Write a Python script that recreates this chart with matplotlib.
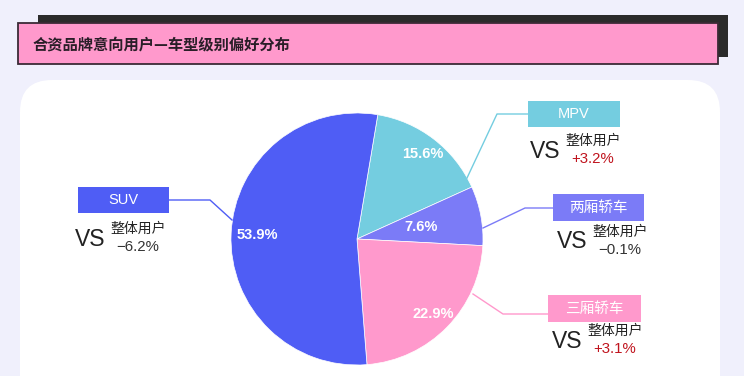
"""
合资品牌意向用户 — 车型级别偏好分布（饼图 + 引线标注）
输出: out.png (744x376)
"""

import numpy as np
import matplotlib
matplotlib.use("Agg")
import matplotlib.pyplot as plt
from matplotlib.patches import FancyBboxPatch, Rectangle

plt.rcParams["font.family"] = ["Liberation Sans", "Noto Sans CJK SC", "DejaVu Sans"]

# ---- 数据 ------------------------------------------------------------------
TITULO = "合资品牌意向用户—车型级别偏好分布"
categorias = ["MPV", "两厢轿车", "三厢轿车", "SUV"]
participacao = [15.6, 7.6, 22.9, 53.9]          # %
vs_total = [3.2, -0.1, 3.1, -6.2]               # 与整体用户相比 (pp)
cores = ["#74CDE0", "#7B7BF7", "#FF99CC", "#4F5DF5"]

# ---- layout (px, origem no topo esquerdo) ---------------------------------
W, H = 744, 376
CENTRO = (357, 239)
RAIO = 126
r_pct = [0.85, 0.52, 0.85, 0.79]               # distância do rótulo de %
# caixa (x, y, w, h), cotovelo, ponto na borda, posição do "VS"
caixas = [(528, 101, 92, 26), (553, 194, 91, 27), (548, 295, 93, 27), (78, 187, 91, 26)]
cotovelos = [(497, 114), (525, 208), (503, 314), (210, 200)]
ancoras = [(467, 178), (483, 228), (473, 294), (232, 220)]
x_vs = [530, 557, 552, 75]
y_vs = [151, 242, 341, 239]

COR_FUNDO = "#F0F0FC"
COR_TEXTO = "#333333"
COR_POS = "#C0141E"


def Y(y):
    return H - y


fig = plt.figure(figsize=(W / 100, H / 100), dpi=100)
fig.patch.set_facecolor(COR_FUNDO)
ax = fig.add_axes([0, 0, 1, 1])
ax.set_facecolor(COR_FUNDO)

# cartão branco arredondado
ax.add_patch(FancyBboxPatch((20, Y(420)), 700, 340, boxstyle="round,pad=0,rounding_size=32",
                            fc="white", ec="none", zorder=0))

# faixa do título: sombra escura + faixa rosa
ax.add_patch(Rectangle((38, Y(57)), 690, 42, fc="#2B2B2B", ec="none", zorder=1))
ax.add_patch(Rectangle((18, Y(64)), 700, 41, fc="#FF99CC", ec="#3B2A36", lw=1.3, zorder=2))
ax.text(33, Y(44), TITULO, fontsize=11, fontweight="heavy", color="#2A1E28",
        family=["Noto Sans CJK SC", "DejaVu Sans"], va="center", ha="left", zorder=3)

# ---- pizza -----------------------------------------------------------------
cx, cy = CENTRO[0], Y(CENTRO[1])
fatias, _ = ax.pie(participacao, colors=cores, startangle=80.5, counterclock=False,
                   center=(cx, cy), radius=RAIO,
                   wedgeprops=dict(edgecolor="white", linewidth=0.5))

for f, v, r in zip(fatias, participacao, r_pct):
    meio = np.deg2rad((f.theta1 + f.theta2) / 2)
    ax.text(cx + r * RAIO * np.cos(meio), cy + r * RAIO * np.sin(meio), f"{v:.1f}%",
            color="white", fontsize=10.5, fontweight="bold", ha="center", va="center")

# ---- rótulos com linha de chamada -----------------------------------------
for i, cat in enumerate(categorias):
    bx, by, bw, bh = caixas[i]
    cor = cores[i]
    ax.add_patch(Rectangle((bx, Y(by + bh)), bw, bh, fc=cor, ec="none", zorder=3))
    ax.text(bx + bw / 2, Y(by + bh / 2), cat, color="white", fontsize=10.5,
            ha="center", va="center", zorder=4,
            family=["Liberation Sans", "Noto Sans CJK SC"])

    # linha: borda da pizza -> cotovelo -> caixa
    lado = bx if bx > cx else bx + bw
    ax.plot([ancoras[i][0], cotovelos[i][0], lado],
            [Y(ancoras[i][1]), Y(cotovelos[i][1]), Y(cotovelos[i][1])],
            color=cor, lw=1, zorder=2)

    # "VS 整体用户 ±x%"
    ax.text(x_vs[i], Y(y_vs[i]), "VS", fontsize=16.5, color="#222222",
            ha="left", va="center")
    xs = x_vs[i] + 63
    ax.text(xs, Y(y_vs[i] - 10), "整体用户", fontsize=10, color="#222222",
            ha="center", va="center", family=["Noto Sans CJK SC", "DejaVu Sans"])
    v = vs_total[i]
    txt = f"+{v:.1f}%" if v > 0 else f"\u2212{abs(v):.1f}%"
    ax.text(xs, Y(y_vs[i] + 8), txt, fontsize=10.8,
            color=COR_POS if v > 0 else COR_TEXTO, ha="center", va="center")

ax.set_xlim(0, W)
ax.set_ylim(0, H)
ax.set_aspect("auto")
ax.axis("off")

fig.savefig("out.png", dpi=100, facecolor=COR_FUNDO)
